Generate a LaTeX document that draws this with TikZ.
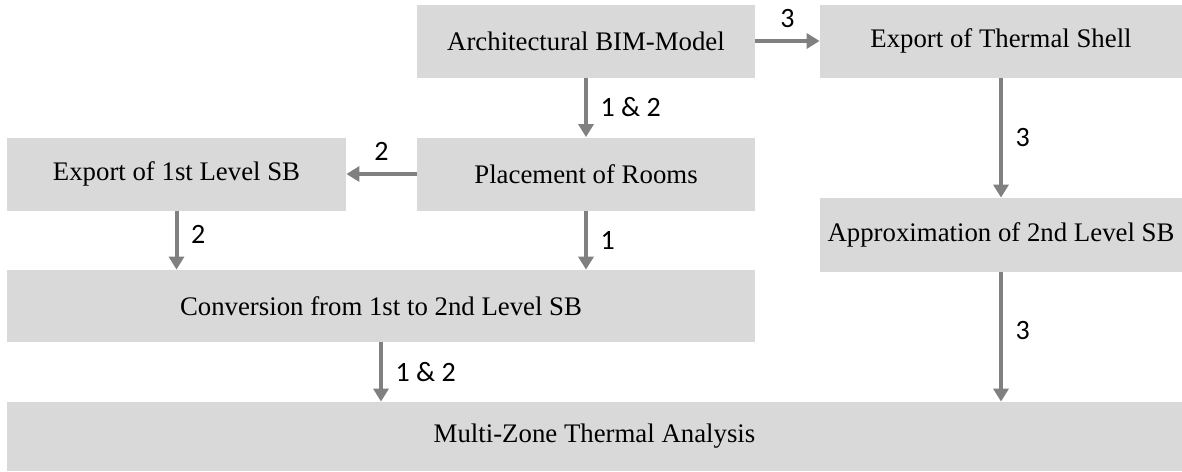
\documentclass[tikz,border=0pt]{standalone}
\usepackage{fontspec}
\setmainfont{Liberation Serif}
\newfontfamily\numfont{Carlito}
\usetikzlibrary{arrows.meta,positioning,calc}

\definecolor{boxgray}{HTML}{D9D9D9}
\definecolor{flowgray}{HTML}{808080}

\begin{document}
\begin{tikzpicture}[x=0.5pt, y=-0.5pt,
    stepbox/.style={fill=boxgray, inner sep=0pt, minimum height=36.5pt,
        font=\fontsize{13.4}{16}\selectfont},
    flow/.style={draw=flowgray, line width=2pt, -{Triangle[length=6.5pt, width=7.5pt]}},
    tag/.style={font=\numfont\fontsize{14}{16}\selectfont}]
    \useasboundingbox (0,0) rectangle (1182,471);

    % Boxes
    \node[stepbox, minimum width=169pt] (arch) at (586,41) {Architectural BIM-Model};
    \node[stepbox, minimum width=181pt] (shell) at (1001,41) {Export of Thermal Shell};
    \node[stepbox, minimum width=169pt] (rooms) at (586,174) {Placement of Rooms};
    \node[stepbox, minimum width=169.5pt] (sbone) at (176.5,174) {Export of 1st Level SB};
    \node[stepbox, minimum width=181pt, minimum height=37pt] (approx) at (1001,235) {Approximation of 2nd Level SB};
    \node[stepbox, minimum width=374pt, minimum height=36pt] (conv) at (381,306) {Conversion from 1st to 2nd Level SB};
    \node[stepbox, minimum width=587.5pt, minimum height=34.5pt] (multi) at (594.5,436.5) {Multi-Zone Thermal Analysis};

    % Arrows
    \draw[flow] (arch.east) -- (shell.west) node[tag, midway, above=2.5pt] {3};
    \draw[flow] (arch) -- (rooms) node[tag, midway, right=3pt] {1 \& 2};
    \draw[flow] (rooms.west) -- (sbone.east) node[tag, midway, above=2.5pt] {2};
    \draw[flow] (sbone.south) -- (sbone.south |- conv.north) node[tag, pos=0.4, right=3pt] {2};
    \draw[flow] (rooms.south) -- (rooms.south |- conv.north) node[tag, midway, right=3pt] {1};
    \draw[flow] (shell) -- (approx) node[tag, midway, right=3pt] {3};
    \draw[flow] (approx.south) -- (approx.south |- multi.north) node[tag, pos=0.45, right=3pt] {3};
    \draw[flow] (conv.south) -- (conv.south |- multi.north) node[tag, midway, right=3pt] {1 \& 2};
\end{tikzpicture}
\end{document}
